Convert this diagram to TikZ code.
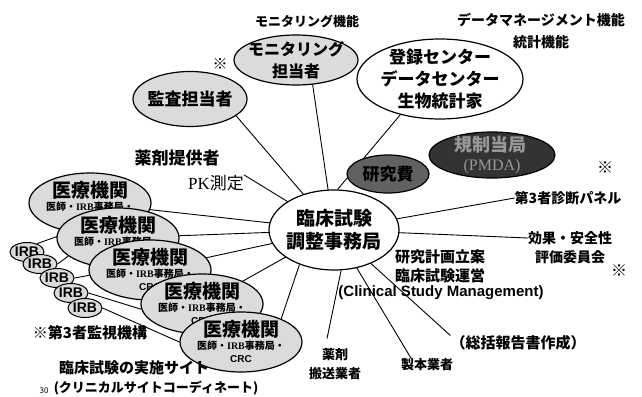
\documentclass[tikz,border=0pt]{standalone}
\usepackage{fontspec}
\setmainfont{Noto Sans CJK JP}
\newfontfamily\lsans{Liberation Sans}
\newfontfamily\lserif{Liberation Serif}
\usetikzlibrary{shapes.geometric,calc}
\pgfdeclarelayer{bg}
\pgfsetlayers{bg,main}
\newcommand\fz[2]{\fontsize{#1pt}{#2pt}\selectfont}
\tikzset{
  ov/.style={ellipse, draw=black, line width=1.2pt, inner sep=0pt},
  gfill/.style={fill=black!14},
  lbl/.style={inner sep=0pt, align=center, font=\bfseries},
  conn/.style={line width=0.9pt, draw=black}
}
\newcommand\medi[3]{%
  \node[ov,gfill,minimum width=122pt,minimum height=60pt] (#1) at (#2,#3) {};
  \node[lbl,font=\bfseries\fz{19}{20}] (#1a) at ($(#1)+(0,-13)$) {医療機関};
  \node[lbl,font=\bfseries\fz{10}{12}] (#1b) at ($(#1)+(0,4)$) {医師・{\lserif IRB}事務局・};
  \node[lbl,font=\lsans\bfseries\fz{10}{12}] (#1c) at ($(#1)+(0,17)$) {CRC};
}
\begin{document}
\begin{tikzpicture}[x=1pt,y=-1pt]
\useasboundingbox (0,0) rectangle (642,396);

% top labels
\node[lbl,font=\bfseries\fz{13}{16}] (monifn) at (307,21) {モニタリング機能};
\node[lbl,font=\bfseries\fz{14}{22}] (dmfn) at (541,31) {データマネージメント機能\\統計機能};
\node[lbl,font=\fz{15}{16}] (kome1) at (220,64) {※};

% upper ellipses
\node[ov,gfill,minimum width=114pt,minimum height=55pt] (kansa) at (190,99) {};
\node[lbl,font=\bfseries\fz{17}{20}] (kansat) at (kansa) {監査担当者};

\node[ov,gfill,minimum width=124pt,minimum height=50pt] (moni) at (296,60) {};
\node[lbl,font=\bfseries\fz{16}{22}] (monit) at (moni) {モニタリング\\担当者};

\node[ov,fill=white,minimum width=166pt,minimum height=80pt] (touroku) at (440,79) {};
\node[lbl,font=\bfseries\fz{17}{22}] (tourokut) at (touroku) {登録センター\\データセンター\\生物統計家};

\node[ov,fill=black!62,minimum width=82pt,minimum height=38pt] (kenkyuhi) at (388,174) {};
\node[lbl,font=\bfseries\fz{17}{20},text=black] (kenkyuhit) at (kenkyuhi) {研究費};

\node[ov,fill=black!80,minimum width=126pt,minimum height=46pt] (kisei) at (492,155) {};
\node[lbl,font=\bfseries\fz{18}{20},text=black!40] (kisei1) at (490,145) {規制当局};
\node[lbl,font=\lserif\fz{16}{18},text=black!40] (kisei2) at (492,167) {(PMDA)};

% center
\node[ov,fill=white,minimum width=130pt,minimum height=80pt] (ctr) at (334,230) {};
\node[lbl,font=\bfseries\fz{19}{23}] (ctrt) at (ctr) {臨床試験\\調整事務局};

% left labels
\node[lbl,font=\bfseries\fz{17}{20}] (teikyo) at (177,158) {薬剤提供者};
\node[lbl,font=\fz{17}{20}] (pk) at (216,183) {{\lserif PK}測定};

% right labels
\node[lbl,font=\fz{16}{18}] (kome2) at (605,168) {※};
\node[lbl,font=\bfseries\fz{14}{16}] (panel) at (568,198) {第3者診断パネル};
\node[lbl,font=\bfseries\fz{14}{16}] (eff1) at (570,238) {効果・安全性};
\node[lbl,font=\bfseries\fz{14}{16}] (eff2) at (570,257) {評価委員会};
\node[lbl,font=\fz{16}{18}] (kome3) at (619,271) {※};

\node[lbl,font=\bfseries\fz{15}{19},anchor=west,align=left] (keikaku) at (395,266) {研究計画立案\\臨床試験運営};
\node[lbl,font=\lsans\bfseries\fz{15}{17}] (csm) at (441,293) {(Clinical Study Management)};
\node[lbl,font=\bfseries\fz{15}{17}] (soukatsu) at (518,343) {（総括報告書作成）};
\node[lbl,font=\bfseries\fz{13}{15}] (seihon) at (427,365) {製本業者};
\node[lbl,font=\bfseries\fz{13}{15}] (hanso1) at (335,355) {薬剤};
\node[lbl,font=\bfseries\fz{13}{15}] (hanso2) at (335,374) {搬送業者};

% medical institutions
\medi{m1}{90}{203}
\medi{m2}{118}{238}
\medi{m3}{150}{270}
\medi{m4}{202}{304}
\medi{m5}{241}{342}

% IRB
\foreach \i/\x/\y in {1/27/252,2/40/264,3/57/278,4/71/293,5/85/308}{
  \node[ov,gfill,line width=1pt,minimum width=31pt,minimum height=19pt,font=\lsans\bfseries\fz{14}{15}] (irb\i) at (\x,\y) {IRB};
}

% bottom labels
\node[lbl,font=\bfseries\fz{15}{17}] (daisan) at (90,333) {※第3者監視機構};
\node[lbl,font=\bfseries\fz{15}{17}] (site) at (134,368) {臨床試験の実施サイト};
\node[lbl,font=\bfseries\fz{13}{15}] (coord) at (156,388) {(クリニカルサイトコーディネート)};
\node[lbl,font=\fz{8}{9}] (pg) at (44,391) {30};

% connectors
\begin{pgfonlayer}{bg}
\draw[conn] (ctr.center) -- (kansa.-20);
\draw[conn] (ctr.center) -- (moni.-56);
\draw[conn] (ctr.85) -- (touroku.222);
\draw[conn] (ctr.center) -- (pk.north east);
\draw[conn] (ctr.center) -- (panel.west);
\draw[conn] (ctr.center) -- (eff1.west);
\draw[conn] (ctr.center) -- (soukatsu.north west);
\draw[conn] (ctr.center) -- ($(seihon.north west)!0.2!(seihon.north east)$);
\draw[conn] (ctr.-80) -- ($(hanso1.north)+(-8,-10)$);
\draw[conn] (m1.center) -- (ctr.center);
\draw[conn] (m2.center) -- (ctr.center);
\draw[conn] (m3.center) -- (ctr.center);
\draw[conn] (m4.center) -- (ctr.center);
\draw[conn] (m5.30) -- (ctr.225);
\draw[conn] (irb1.40) -- (m1.235);
\draw[conn] (irb2.east) -- (m2.200);
\draw[conn] (irb3.east) -- (m3.185);
\draw[conn] (irb4.east) -- (m4.185);
\draw[conn] (irb5.east) -- (m5.west);
\end{pgfonlayer}
\end{tikzpicture}
\end{document}
